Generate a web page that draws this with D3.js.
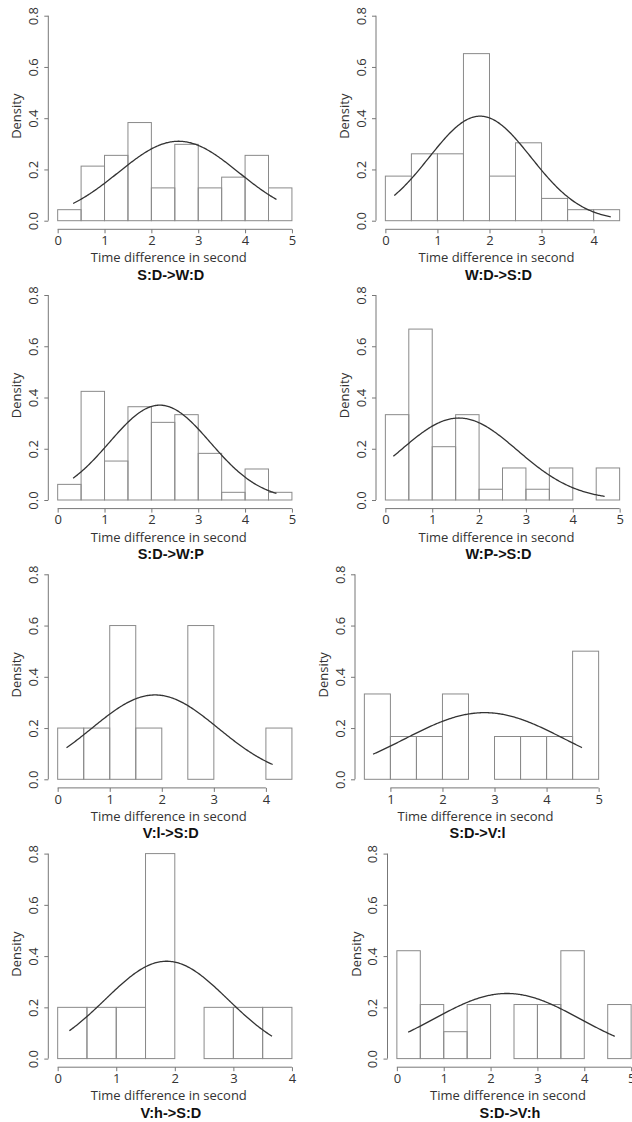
<!DOCTYPE html>
<html>
<head>
<meta charset="utf-8">
<script src="https://cdn.jsdelivr.net/npm/d3@7"></script>
<style>
  body { margin: 0; background: #fff; }
  text { font-family: "Open Sans", sans-serif; }
</style>
</head>
<body>
<svg id="chart" width="632" height="1122"></svg>
<script>
// panel titles, left to right, top to bottom
var titles = ["S:D->W:D", "W:D->S:D", "S:D->W:P", "W:P->S:D",
              "V:l->S:D", "S:D->V:l", "V:h->S:D", "S:D->V:h"];

// histogram densities, bins of 0.5 starting at binStart
var binStart = [0, 0, 0, 0, 0, 0.5, 0, 0];
var densities = [
  [0.043, 0.213, 0.255, 0.383, 0.128, 0.298, 0.128, 0.170, 0.255, 0.128],
  [0.174, 0.261, 0.261, 0.652, 0.174, 0.304, 0.087, 0.043, 0.043],
  [0.061, 0.424, 0.152, 0.364, 0.303, 0.333, 0.182, 0.030, 0.121, 0.030],
  [0.333, 0.667, 0.208, 0.333, 0.042, 0.125, 0.042, 0.125, 0, 0.125],
  [0.2, 0.2, 0.6, 0.2, 0, 0.6, 0, 0, 0.2],
  [0.333, 0.167, 0.167, 0.333, 0, 0.167, 0.167, 0.167, 0.5],
  [0.2, 0.2, 0.2, 0.8, 0, 0.2, 0.2, 0.2],
  [0.421, 0.211, 0.105, 0.211, 0, 0.211, 0.211, 0.421, 0, 0.211]
];

// fitted normal curve: mean, sd and the x range it is drawn over
var fitMean = [2.58, 1.82, 2.18, 1.57, 1.87, 2.81, 1.86, 2.35];
var fitSd = [1.287, 0.978, 1.078, 1.247, 1.212, 1.534, 1.05, 1.57];
var fitFrom = [0.33, 0.17, 0.33, 0.17, 0.17, 0.667, 0.2, 0.24];
var fitTo = [4.67, 4.33, 4.67, 4.68, 4.13, 4.68, 3.66, 4.65];

// x tick range of each panel
var xTickFrom = [0, 0, 0, 0, 0, 1, 0, 0];
var xTickTo = [5, 4, 5, 5, 4, 5, 4, 5];
var yTicks = [0, 0.2, 0.4, 0.6, 0.8];
var xLabel = "Time difference in second";
var yLabel = "Density";

// layout
var panelLeft = [48.3, 376, 48.3, 376, 48.3, 355, 48.3, 387.5];
var plotW = 253;
var rowTop = 15.7, rowStep = 279.3, rowH = 205;

var svg = d3.select("#chart");

function dnorm(x, m, s) {
  return Math.exp(-0.5 * Math.pow((x - m) / s, 2)) / (s * Math.sqrt(2 * Math.PI));
}

for (var p = 0; p < titles.length; p++) {
  var row = Math.floor(p / 2);
  var y08 = rowTop + row * rowStep;
  var y0 = y08 + rowH;
  var lo = binStart[p];
  var hi = lo + densities[p].length * 0.5;
  var pad = (hi - lo) * 0.04;
  var left = panelLeft[p];

  var x = d3.scaleLinear().domain([lo - pad, hi + pad]).range([left, left + plotW]);
  var y = d3.scaleLinear().domain([0, 0.8]).range([y0, y08]);
  var g = svg.append("g");

  // bars
  g.selectAll("rect")
    .data(densities[p])
    .enter()
    .append("rect")
    .attr("x", (d, i) => x(lo + i * 0.5))
    .attr("width", (d, i) => x(lo + (i + 1) * 0.5) - x(lo + i * 0.5))
    .attr("y", d => y(d))
    .attr("height", d => y(0) - y(d))
    .attr("fill", "none")
    .attr("stroke", "#8a8a8a")
    .attr("stroke-width", 1);

  // normal curve
  var pts = d3.range(fitFrom[p], fitTo[p], 0.02).concat([fitTo[p]]);
  g.append("path")
    .datum(pts)
    .attr("d", d3.line().x(d => x(d)).y(d => y(dnorm(d, fitMean[p], fitSd[p]))))
    .attr("fill", "none")
    .attr("stroke", "#333")
    .attr("stroke-width", 1.3);

  // x axis
  var xTicks = d3.range(xTickFrom[p], xTickTo[p] + 1);
  var xa = g.append("g")
    .attr("transform", "translate(0," + (y0 + 8.6) + ")")
    .call(d3.axisBottom(x).tickValues(xTicks).tickFormat(d3.format("d")).tickSize(4).tickSizeOuter(0));
  xa.select(".domain").remove();
  xa.append("line")
    .attr("x1", x(xTicks[0])).attr("x2", x(xTicks[xTicks.length - 1]))
    .attr("stroke", "#777");
  xa.selectAll(".tick line").attr("stroke", "#777");
  xa.selectAll(".tick text")
    .attr("y", 6.5)
    .attr("font-family", "Open Sans")
    .attr("font-size", 13)
    .attr("fill", "#333");

  // y axis
  var ya = g.append("g")
    .attr("transform", "translate(" + left + ",0)")
    .call(d3.axisLeft(y).tickValues(yTicks).tickFormat(d3.format(".1f")).tickSize(4).tickSizeOuter(0));
  ya.select(".domain").remove();
  ya.append("line")
    .attr("y1", y(0)).attr("y2", y(0.8))
    .attr("stroke", "#777");
  ya.selectAll(".tick line").attr("stroke", "#777");
  ya.selectAll(".tick text")
    .attr("x", 0).attr("dy", 0).attr("y", 0)
    .attr("transform", "translate(-15.5,0) rotate(-90)")
    .attr("text-anchor", "middle")
    .attr("dominant-baseline", "central")
    .attr("font-family", "Open Sans")
    .attr("font-size", 13)
    .attr("fill", "#333");

  // labels
  g.append("text")
    .attr("transform", "translate(" + (left - 32) + "," + (y(0.4) - 2) + ") rotate(-90)")
    .attr("text-anchor", "middle")
    .attr("dominant-baseline", "central")
    .attr("font-size", 13)
    .attr("fill", "#333")
    .text(yLabel);

  g.append("text")
    .attr("x", left + plotW / 2 - 6)
    .attr("y", y0 + 41.5)
    .attr("text-anchor", "middle")
    .attr("font-size", 13)
    .attr("fill", "#333")
    .text(xLabel);

  g.append("text")
    .attr("x", left + plotW / 2 - 4)
    .attr("y", y0 + 59)
    .attr("text-anchor", "middle")
    .style("font-family", "'Liberation Sans', Arial, sans-serif")
    .attr("font-weight", "bold")
    .attr("font-size", 14.5)
    .attr("fill", "#111")
    .text(titles[p]);
}
</script>
</body>
</html>
